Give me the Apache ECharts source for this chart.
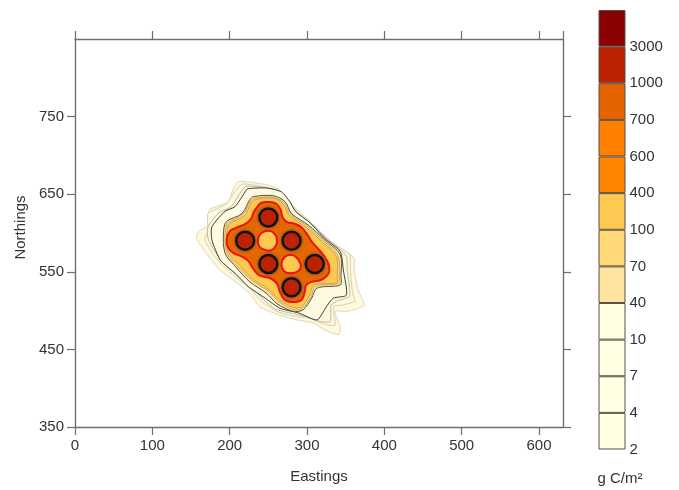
<!DOCTYPE html>
<html><head><meta charset="utf-8"><style>html,body{margin:0;padding:0;background:#fff}#c{width:679px;height:490px}</style>
<script src="https://cdn.jsdelivr.net/npm/echarts@6/dist/echarts.min.js"></script></head>
<body><div id="c"></div><script>
const levelLabels=["2","4","7","10","40","70","100","400","600","700","1000","3000",""];
const bandColors=["#ffffe3","#ffffe3","#ffffe3","#ffffe3","#fee49e","#fed975","#fec950","#ff8400","#ff7f00","#e66400","#bb2200","#8b0000"];
const rightTicks=[350,450,550,650,750];
const level2=[[211,666],[231,665],[252,661],[265,655],[276,643],[285,632],[304,615],[317,602],[334,587],[351,576],[361,567],[361,552],[366,527],[374,507],[364,502],[351,499],[336,499],[343,479],[341,469],[323,475],[308,484],[287,488],[265,494],[239,505],[226,522],[205,539],[188,552],[175,567],[157,593],[160,602],[172,610],[174,630],[198,640],[205,658]];
const level4=[[216,663],[236,661],[257,656],[269,649],[280,636],[289,625],[306,610],[321,597],[338,583],[355,572],[356,552],[359,522],[362,512],[345,507],[334,505],[336,481],[321,483],[304,490],[282,493],[261,499],[241,512],[228,527],[207,544],[192,557],[179,572],[168,591],[172,604],[172,625],[195,637],[208,655]];
const level7=[[221,660],[241,659],[262,655],[274,645],[282,632],[292,623],[308,610],[325,593],[341,580],[351,570],[352,552],[355,519],[338,512],[331,507],[330,486],[317,486],[300,492],[278,497],[259,502],[244,514],[228,530],[209,546],[194,559],[181,576],[172,593],[172,608],[185,625],[203,635],[213,651]];
const level10=[[223,657],[248,658],[267,653],[278,640],[285,628],[304,613],[323,593],[343,576],[347,552],[351,520],[334,516],[325,505],[313,488],[289,497],[265,503],[246,516],[224,531],[207,548],[188,565],[177,591],[177,608],[194,628],[207,634],[220,653]];
const level40=[[231,647],[257,648],[272,640],[280,625],[302,610],[323,591],[343,572],[344,544],[343,533],[313,529],[306,516],[295,501],[282,499],[261,509],[248,522],[226,537],[209,555],[194,574],[192,602],[196,615],[216,625],[226,643]];
const level70=[[232,645],[256,646],[270,639],[279,624],[300,609],[321,590],[340,571],[342,544],[340,535],[311,531],[305,517],[294,503],[283,501],[263,512],[250,525],[229,539],[211,556],[196,575],[194,601],[198,613],[217,624],[227,641]];
const level100=[[233,643],[256,645],[269,637],[277,623],[299,607],[319,589],[338,570],[339,545],[338,536],[309,533],[303,519],[293,505],[283,504],[264,514],[251,527],[231,540],[213,558],[198,576],[196,600],[200,612],[219,622],[228,639]];
const level400=[[236,634],[241,639],[250,640],[260,638],[266,630],[268,621],[274,614],[284,612],[293,607],[301,597],[306,589],[315,579],[323,569],[328,559],[328,548],[319,540],[306,537],[299,533],[297,524],[293,514],[282,511],[271,514],[265,524],[261,535],[252,542],[239,545],[231,553],[224,564],[215,570],[205,574],[198,581],[196,591],[200,602],[209,607],[221,612],[228,619],[231,627]];
const holeA=[[241,600],[249,603],[256,601],[261,593],[260,584],[254,578],[246,578],[238,583],[237,593]];
const holeB=[[271,569],[279,572],[286,569],[292,559],[289,551],[278,548],[270,551],[267,560]];
const sources=[[250,620],[220,590],[280,590],[250,560],[310,560],[280,530]];
const fontName='"Liberation Sans",Arial,sans-serif';
function poly(name,pts,fill,line,lw,smooth){
  return {name,type:'custom',xAxisIndex:0,yAxisIndex:0,coordinateSystem:'cartesian2d',silent:true,data:pts,
    renderItem(p,api){ if(p.dataIndex!==0) return null;
      return {type:'polygon',shape:{points:pts.map(q=>api.coord(q)),smooth},style:{fill,stroke:line,lineWidth:lw}};}};
}
const axisStyle={onZero:false,lineStyle:{color:'#6e6e6e',width:1.4}};
const tick={show:true,length:8,lineStyle:{color:'#6e6e6e',width:1.2}};
const lab={color:'#333',fontSize:15,fontFamily:fontName};
const nameSt={color:'#333',fontSize:15,fontFamily:fontName};
const bars=bandColors.map((c,i)=>({type:'bar',stack:'cb',xAxisIndex:2,yAxisIndex:2,barWidth:'100%',silent:true,
  data:[1],itemStyle:{color:c,borderColor:'#5a4f46',borderWidth:1}}));
const option={animation:false,backgroundColor:'#fff',
 grid:[{left:75,right:116,top:39,bottom:63,outerBoundsMode:'none'},{left:598.5,width:27,top:10,height:439.5,outerBoundsMode:'none'}],
 xAxis:[
  {type:'value',gridIndex:0,min:0,max:631,interval:100,name:'Eastings',nameLocation:'middle',nameGap:42,nameTextStyle:nameSt,axisLine:axisStyle,axisTick:tick,axisLabel:{...lab,margin:11,showMaxLabel:false},splitLine:{show:false}},
  {type:'value',gridIndex:0,min:0,max:631,interval:100,position:'top',axisLine:axisStyle,axisTick:tick,axisLabel:{show:false},splitLine:{show:false}},
  {type:'category',gridIndex:1,data:['c'],name:'g C/m²',nameLocation:'middle',nameGap:22,nameTextStyle:{...nameSt,padding:[0,0,0,16]},axisLine:{show:false},axisTick:{show:false},axisLabel:{show:false}}
 ],
 yAxis:[
  {type:'value',gridIndex:0,min:350,max:850,interval:100,name:'Northings',nameLocation:'middle',nameGap:41,nameTextStyle:{...nameSt,padding:[0,0,0,11]},axisLine:axisStyle,axisTick:tick,axisLabel:{...lab,margin:11,showMaxLabel:false},splitLine:{show:false}},
  {type:'value',gridIndex:0,min:350,max:850,interval:100,position:'right',axisLine:axisStyle,axisTick:{...tick,customValues:rightTicks},axisLabel:{show:false},splitLine:{show:false}},
  {type:'value',gridIndex:1,min:0,max:12,interval:1,position:'right',axisLine:{show:false},axisTick:{show:false},splitLine:{show:false},
   axisLabel:{...lab,margin:4,formatter:v=>levelLabels[v]}}
 ],
 series:[
  poly('2',level2,'#fef8dc','#ddd6bb',1,0.2),
  poly('4',level4,'#fef8de','#d5cfb5',1,0.2),
  poly('7',level7,'#fef8de','#bdb8a2',1,0.2),
  poly('10',level10,'#fefae2','#3a3a36',1,0.2),
  poly('40',level40,'#fee49e','#55504a',1,0.3),
  poly('70',level70,'#fed975','#c9a55a',1,0.3),
  poly('100',level100,'#fec950','#c8a060',1,0.3),
  poly('400',level400,'#e36800','#f01010',2,0.4),
  poly('holeA',holeA,'#fec950','#f01010',2,0.4),
  poly('holeB',holeB,'#fec950','#f01010',2,0.4),
  {name:'halo',type:'scatter',xAxisIndex:0,yAxisIndex:0,silent:true,symbol:'circle',symbolSize:24,data:sources,itemStyle:{color:'#a85a20',opacity:.6}},
  {name:'sources',type:'scatter',xAxisIndex:0,yAxisIndex:0,silent:true,symbol:'circle',symbolSize:18,data:sources,itemStyle:{color:'#bb2200',borderColor:'#111',borderWidth:2.5,opacity:1}},
  ...bars
 ]};
echarts.init(document.getElementById('c'),null,{renderer:'canvas'}).setOption(option);
</script></body></html>
